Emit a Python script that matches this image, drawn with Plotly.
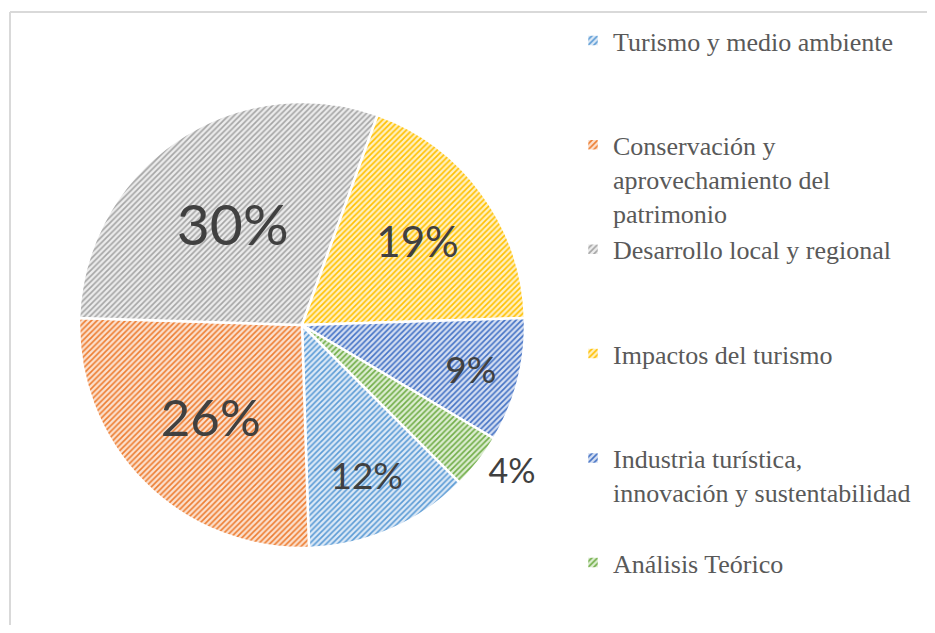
import plotly.graph_objects as go

categories = [
    "Turismo y medio ambiente",
    "Conservación y<br>aprovechamiento del<br>patrimonio",
    "Desarrollo local y regional",
    "Impactos del turismo",
    "Industria turística,<br>innovación y sustentabilidad",
    "Análisis Teórico",
]
values = [12, 26, 30, 19, 9, 4]

base_colors = ["#5B9BD5", "#ED7D31", "#A5A5A5", "#FFC000", "#4472C4", "#70AD47"]
tint_colors = ["#DCE9F6", "#FBE0CE", "#ECECEC", "#FFF0C0", "#D4DEF2", "#DCEDD1"]
label_sizes = [37, 51, 57, 42, 37, 34]
label_pos = ["inside", "inside", "inside", "inside", "inside", "outside"]

# pad legend entries (except the last) to equal slot height (3 lines) like the original legend layout
def pad(lbl, n=3):
    lines = lbl.count("<br>") + 1
    return lbl + "<br> " * (n - lines)

legend_labels = [pad(c) for c in categories[:-1]] + [categories[-1]]

W, H = 927, 617
cx, cy, R = 294, 317, 223

fig = go.Figure()
fig.add_trace(go.Pie(
    labels=legend_labels,
    values=values,
    sort=False,
    direction="clockwise",
    rotation=135,
    textinfo="percent",
    textposition=label_pos,
    insidetextorientation="horizontal",
    textfont=dict(family="Lato", size=label_sizes, color="#404040"),
    marker=dict(
        colors=tint_colors,
        line=dict(color="white", width=2.5),
        pattern=dict(shape="/", fgcolor=base_colors, bgcolor=tint_colors,
                     size=4, solidity=0.4, fillmode="replace"),
    ),
    domain=dict(x=[(cx - R) / W, (cx + R) / W],
                y=[(H - cy - R) / H, (H - cy + R) / H]),
    hoverinfo="label+percent",
))

fig.update_layout(
    width=W, height=H,
    margin=dict(l=0, r=0, t=0, b=0),
    paper_bgcolor="white",
    plot_bgcolor="white",
    showlegend=True,
    legend=dict(
        x=565 / W, xanchor="left",
        y=1 - 9 / H, yanchor="top",
        valign="top",
        font=dict(family="Liberation Serif", size=26, color="#595959"),
        bgcolor="rgba(0,0,0,0)",
        borderwidth=0,
    ),
    shapes=[
        dict(type="line", xref="paper", yref="paper",
             x0=2 / W, x1=1, y0=1 - 4 / H, y1=1 - 4 / H,
             line=dict(color="#D9D9D9", width=2), layer="below"),
        dict(type="line", xref="paper", yref="paper",
             x0=2 / W, x1=2 / W, y0=0, y1=1 - 4 / H,
             line=dict(color="#D9D9D9", width=2), layer="below"),
    ],
)

fig.write_html("out.html")
